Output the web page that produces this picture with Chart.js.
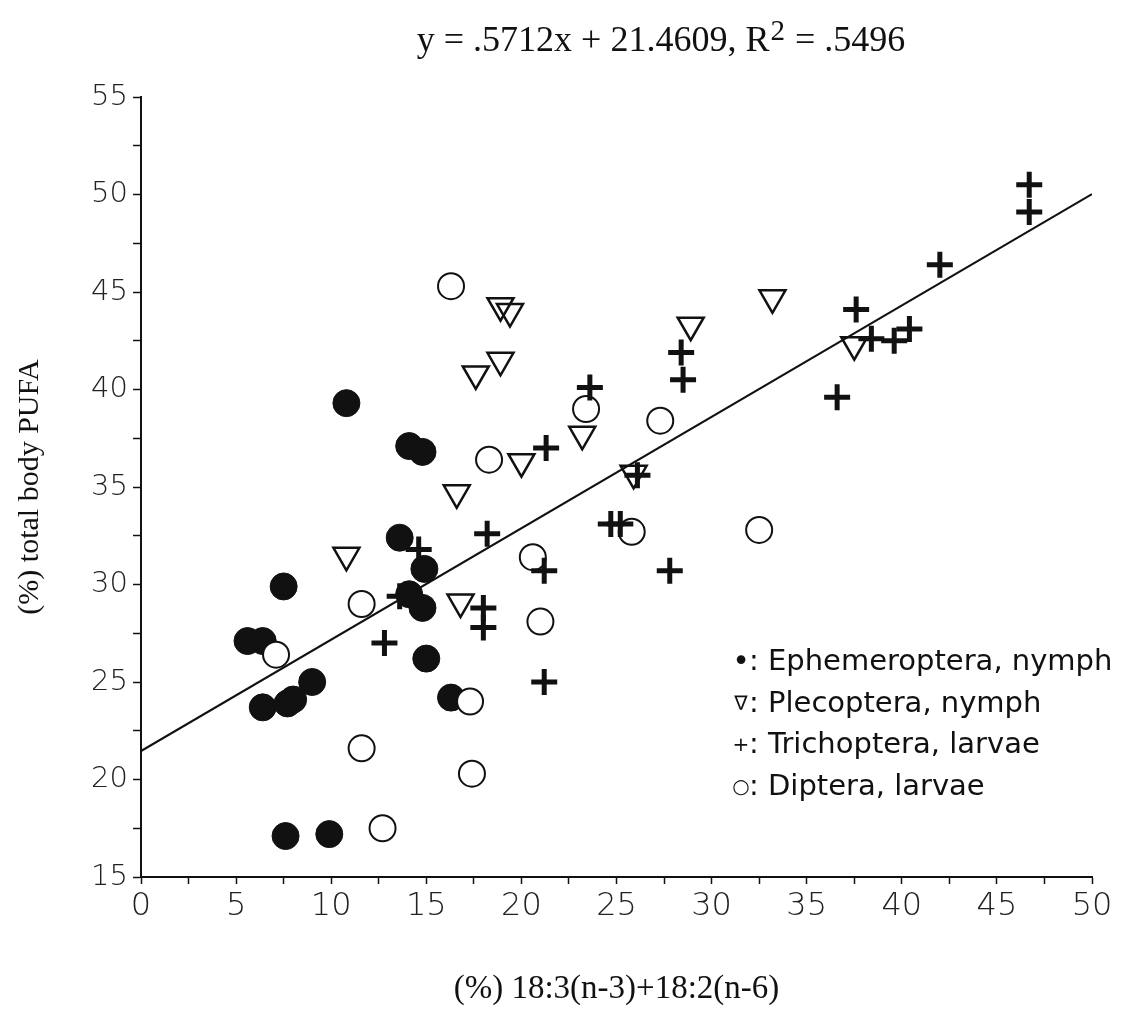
<!DOCTYPE html>
<html><head><meta charset="utf-8">
<script src="https://cdn.jsdelivr.net/npm/chart.js@4.4.1/dist/chart.umd.min.js"></script>
<style>html,body{margin:0;padding:0;background:#fff;}#wrap{width:1125px;height:1019px;position:relative;}</style>
</head><body><div id="wrap"><canvas id="c" width="1125" height="1019"></canvas></div>
<script>
// Ephemeroptera, nymph (filled circles)
const ephX = [10.8, 14.1, 14.8, 13.6, 14.9, 14.1, 14.8, 7.5, 5.6, 6.4, 9.0, 6.4, 7.7, 8.0, 15.0, 16.3, 7.6, 9.9];
const ephY = [39.3, 37.1, 36.8, 32.4, 30.8, 29.5, 28.8, 29.9, 27.1, 27.1, 25.0, 23.7, 23.9, 24.1, 26.2, 24.2, 17.1, 17.2];
// Plecoptera, nymph (open down triangles)
const pleX = [18.9, 19.4, 17.6, 18.9, 28.9, 33.2, 23.2, 20.0, 16.6, 25.9, 10.8, 16.8, 37.5];
const pleY = [44.3, 44.0, 40.8, 41.5, 43.3, 44.7, 37.7, 36.3, 34.7, 35.7, 31.5, 29.1, 42.3];
// Trichoptera, larvae (crosses)
const triX = [46.7, 46.7, 42.0, 37.6, 38.4, 39.6, 40.4, 36.6, 28.4, 28.5, 23.6, 21.3, 26.1, 24.7, 25.2, 18.2, 21.2, 18.0, 18.0, 21.2, 27.8, 12.8, 14.6, 13.6];
const triY = [50.5, 49.1, 46.4, 44.1, 42.6, 42.5, 43.1, 39.6, 41.9, 40.5, 40.1, 37.0, 35.6, 33.1, 33.1, 32.6, 30.7, 28.8, 27.8, 25.0, 30.7, 27.0, 31.8, 29.4];
// Diptera, larvae (open circles)
const dipX = [16.3, 23.4, 27.3, 18.3, 25.8, 32.5, 20.6, 21.0, 17.3, 11.6, 7.1, 11.6, 17.4, 12.7];
const dipY = [45.3, 39.0, 38.4, 36.4, 32.7, 32.8, 31.4, 28.1, 24.0, 29.0, 26.4, 21.6, 20.3, 17.5];
// Regression line endpoints (y = .5712x + 21.4609)
const lineX = [0, 50];
const lineY = [21.4609, 50.0209];

const xTickLabels = ['0','5','10','15','20','25','30','35','40','45','50'];
const yTickLabels = ['15','20','25','30','35','40','45','50','55'];
const seriesNames = ['Ephemeroptera, nymph','Plecoptera, nymph','Trichoptera, larvae','Diptera, larvae'];
const legendSymbols = ['\u2022','\u2207','+','\u25CB'];
const eqMain = 'y = .5712x + 21.4609, R';
const eqSup = '2';
const eqTail = ' = .5496';
const xTitle = '(%) 18:3(n-3)+18:2(n-6)';
const yTitle = '(%) total body PUFA';

const pts = (xs, ys) => xs.map((x, i) => ({x: x, y: ys[i]}));

const overlay = {
  id: 'overlayText',
  afterDraw(chart) {
    const ctx = chart.ctx;
    ctx.save();
    ctx.fillStyle = '#111';
    // equation title
    const f1 = '36px "Liberation Serif", "DejaVu Serif", serif';
    const f2 = '29px "Liberation Serif", "DejaVu Serif", serif';
    ctx.font = f1;
    const w1 = ctx.measureText(eqMain).width;
    const w3 = ctx.measureText(eqTail).width;
    ctx.font = f2;
    const w2 = ctx.measureText(eqSup).width;
    let x0 = 660 - (w1 + w2 + w3) / 2;
    const base = 51;
    ctx.textBaseline = 'alphabetic';
    ctx.textAlign = 'left';
    ctx.font = f1; ctx.fillText(eqMain, x0, base);
    ctx.font = f2; ctx.fillText(eqSup, x0 + w1 + 1, base - 11);
    ctx.font = f1; ctx.fillText(eqTail, x0 + w1 + w2 + 2, base);
    // legend inside plot
    const ys = [662, 704, 745, 787];
    ctx.textBaseline = 'middle';
    for (let i = 0; i < seriesNames.length; i++) {
      ctx.textAlign = 'center';
      ctx.font = (i === 0 ? '30px' : '20px') + ' "DejaVu Sans", sans-serif';
      ctx.fillText(legendSymbols[i], 741, ys[i] + 1);
      ctx.textAlign = 'left';
      ctx.font = '29px "DejaVu Sans", sans-serif';
      ctx.fillText(': ' + seriesNames[i], 749, ys[i]);
    }
    ctx.restore();
  }
};

new Chart(document.getElementById('c'), {
  type: 'scatter',
  data: {
    datasets: [
      { type: 'line', label: 'fit', data: pts(lineX, lineY), borderColor: '#111', borderWidth: 2.2, pointRadius: 0, fill: false, order: 5 },
      { label: seriesNames[0], data: pts(ephX, ephY), pointStyle: 'circle', pointRadius: 13.5, backgroundColor: '#111', borderColor: '#111', borderWidth: 1, order: 4 },
      { label: seriesNames[1], data: pts(pleX, pleY), pointStyle: 'triangle', rotation: 180, pointRotation: 180, pointRadius: 15, backgroundColor: 'rgba(255,255,255,0)', borderColor: '#111', borderWidth: 2.5, order: 3 },
      { label: seriesNames[3], data: pts(dipX, dipY), pointStyle: 'circle', pointRadius: 13, backgroundColor: '#fff', borderColor: '#111', borderWidth: 2, order: 2 },
      { label: seriesNames[2], data: pts(triX, triY), pointStyle: 'cross', pointRadius: 13, backgroundColor: '#111', borderColor: '#111', borderWidth: 5, order: 1 }
    ]
  },
  options: {
    responsive: false,
    animation: false,
    devicePixelRatio: 1,
    layout: { padding: { top: 97, right: 33, left: 0, bottom: 0 } },
    plugins: { legend: { display: false }, tooltip: { enabled: false }, title: { display: false } },
    scales: {
      x: {
        type: 'linear', min: 0, max: 50,
        afterFit: s => { s.height = 142; },
        border: { color: '#111', width: 2 },
        grid: { drawOnChartArea: false, tickLength: 7, color: '#111', tickWidth: 1.5 },
        ticks: { stepSize: 2.5, autoSkip: false, maxRotation: 0, padding: 3, color: '#222',
          font: { family: '"DejaVu Sans", sans-serif', size: 32, weight: '200' },
          callback: v => xTickLabels.includes(String(v)) ? String(v) : '' },
        title: { display: true, text: xTitle, color: '#111', padding: { top: 0, bottom: 10 },
          font: { family: '"Liberation Serif", serif', size: 33 } }
      },
      y: {
        type: 'linear', min: 15, max: 55,
        afterFit: s => { s.width = 141; },
        border: { color: '#111', width: 2 },
        grid: { drawOnChartArea: false, tickLength: 8, color: '#111', tickWidth: 1.5 },
        ticks: { stepSize: 2.5, autoSkip: false, padding: 5, color: '#222',
          font: { family: '"DejaVu Sans", sans-serif', size: 29, weight: '200' },
          callback: v => yTickLabels.includes(String(v)) ? String(v) : '' },
        title: { display: true, text: yTitle, color: '#111', padding: { top: 12, bottom: 0 },
          font: { family: '"Liberation Serif", serif', size: 30 } }
      }
    }
  },
  plugins: [overlay]
});
</script></body></html>
